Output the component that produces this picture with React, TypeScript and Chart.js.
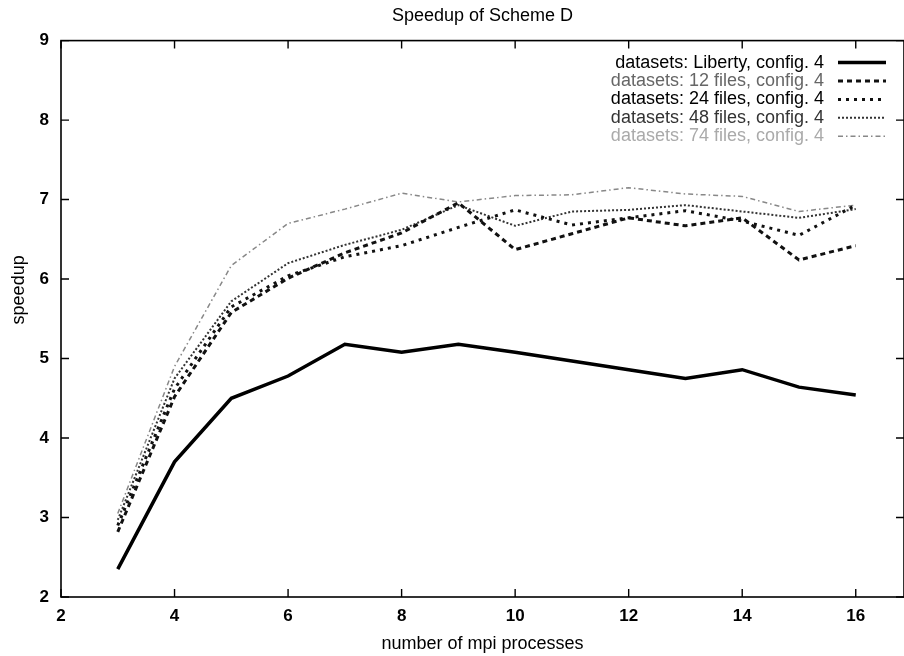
import React, { useEffect, useRef } from 'react';
import Chart from 'chart.js/auto';

// number of mpi processes
const procs = [3, 4, 5, 6, 7, 8, 9, 10, 11, 12, 13, 14, 15, 16];

// speedup per dataset
const liberty = [2.35, 3.7, 4.5, 4.78, 5.18, 5.08, 5.18, 5.08, 4.97, 4.86, 4.75, 4.86, 4.64, 4.54];
const files12 = [2.82, 4.52, 5.58, 6.01, 6.33, 6.58, 6.96, 6.37, 6.57, 6.77, 6.67, 6.77, 6.24, 6.42];
const files24 = [2.9, 4.62, 5.65, 6.04, 6.28, 6.42, 6.65, 6.87, 6.68, 6.77, 6.86, 6.73, 6.55, 6.93];
const files48 = [2.97, 4.75, 5.72, 6.2, 6.43, 6.62, 6.93, 6.67, 6.85, 6.87, 6.93, 6.85, 6.77, 6.88];
const files74 = [3.05, 4.9, 6.17, 6.7, 6.88, 7.08, 6.97, 7.05, 7.06, 7.15, 7.07, 7.04, 6.85, 6.93];

const seriesLabels = [
  'datasets: Liberty, config. 4',
  'datasets: 12 files, config. 4',
  'datasets: 24 files, config. 4',
  'datasets: 48 files, config. 4',
  'datasets: 74 files, config. 4',
];

const xTicks = [2, 4, 6, 8, 10, 12, 14, 16];
const yTicks = [2, 3, 4, 5, 6, 7, 8, 9];

const FONT = "'Liberation Sans', Arial, sans-serif";
const legendTextColors = ['#000', '#666', '#000', '#333', '#aaa'];

const toPoints = (ys: number[]) => procs.map((x, i) => ({ x, y: ys[i] }));

// gnuplot-style frame: box, inward mirrored ticks, rotated ylabel and key
const framePlugin = {
  id: 'gnuplotFrame',
  afterDraw(chart: any) {
    const { ctx, chartArea: a, scales } = chart;
    const tick = 8;
    ctx.save();
    ctx.strokeStyle = '#000';
    ctx.lineWidth = 1.6;
    ctx.strokeRect(a.left, a.top, a.right - a.left, a.bottom - a.top);
    ctx.lineWidth = 1.4;
    ctx.beginPath();
    xTicks.forEach((v) => {
      const px = scales.x.getPixelForValue(v);
      ctx.moveTo(px, a.bottom);
      ctx.lineTo(px, a.bottom - tick);
      ctx.moveTo(px, a.top);
      ctx.lineTo(px, a.top + tick);
    });
    yTicks.forEach((v) => {
      const py = scales.y.getPixelForValue(v);
      ctx.moveTo(a.left, py);
      ctx.lineTo(a.left + tick, py);
      ctx.moveTo(a.right, py);
      ctx.lineTo(a.right - tick, py);
    });
    ctx.stroke();

    // y label
    ctx.fillStyle = '#000';
    ctx.font = `18px ${FONT}`;
    ctx.textAlign = 'center';
    ctx.textBaseline = 'middle';
    ctx.translate(19, a.top + (a.bottom - a.top) * 0.448);
    ctx.rotate(-Math.PI / 2);
    ctx.fillText('speedup', 0, 0);
    ctx.restore();

    // key
    ctx.save();
    ctx.font = `18px ${FONT}`;
    ctx.textAlign = 'right';
    ctx.textBaseline = 'middle';
    const textRight = a.right - 80;
    chart.data.datasets.forEach((ds: any, i: number) => {
      const y = a.top + 22 + i * 18.4;
      ctx.fillStyle = legendTextColors[i];
      ctx.fillText(ds.label, textRight, y);
      ctx.strokeStyle = ds.borderColor;
      ctx.lineWidth = ds.borderWidth;
      ctx.setLineDash(ds.borderDash || []);
      ctx.beginPath();
      ctx.moveTo(textRight + 14, y);
      ctx.lineTo(textRight + 62, y);
      ctx.stroke();
    });
    ctx.restore();
  },
};

export default function App() {
  const canvasRef = useRef<HTMLCanvasElement>(null);

  useEffect(() => {
    document.body.style.margin = '0';
    if (!canvasRef.current) return;

    const chart = new Chart(canvasRef.current, {
      type: 'line',
      data: {
        datasets: [
          {
            label: seriesLabels[0],
            data: toPoints(liberty),
            borderColor: '#000',
            borderWidth: 3.5,
          },
          {
            label: seriesLabels[1],
            data: toPoints(files12),
            borderColor: '#111',
            borderWidth: 3,
            borderDash: [5, 4],
          },
          {
            label: seriesLabels[2],
            data: toPoints(files24),
            borderColor: '#111',
            borderWidth: 3,
            borderDash: [3, 5],
          },
          {
            label: seriesLabels[3],
            data: toPoints(files48),
            borderColor: '#333',
            borderWidth: 2,
            borderDash: [2, 2],
          },
          {
            label: seriesLabels[4],
            data: toPoints(files74),
            borderColor: '#888',
            borderWidth: 1.5,
            borderDash: [5, 3, 1.5, 3],
          },
        ],
      },
      options: {
        animation: false,
        responsive: true,
        maintainAspectRatio: false,
        layout: { padding: 0 },
        elements: {
          point: { radius: 0, hoverRadius: 0 },
          line: { tension: 0, fill: false },
        },
        plugins: {
          legend: { display: false },
          tooltip: { enabled: false },
          title: {
            display: true,
            text: 'Speedup of Scheme D',
            fullSize: false,
            color: '#000',
            font: { family: FONT, size: 18, weight: 'normal' },
            padding: { top: 5, bottom: 14 },
          },
        },
        scales: {
          x: {
            type: 'linear',
            min: 2,
            max: 16.85,
            grid: { display: false },
            border: { display: false },
            afterBuildTicks: (scale: any) => {
              scale.ticks = xTicks.map((value) => ({ value }));
            },
            afterFit: (scale: any) => {
              scale.height = 59;
            },
            ticks: {
              padding: 1,
              color: '#000',
              font: { family: FONT, size: 17, weight: 'bold' },
            },
            title: {
              display: true,
              text: 'number of mpi processes',
              color: '#000',
              font: { family: FONT, size: 18, weight: 'normal' },
              padding: { top: 0, bottom: 1 },
            },
          },
          y: {
            type: 'linear',
            min: 2,
            max: 9,
            grid: { display: false },
            border: { display: false },
            afterBuildTicks: (scale: any) => {
              scale.ticks = yTicks.map((value) => ({ value }));
            },
            afterFit: (scale: any) => {
              scale.width = 61;
            },
            ticks: {
              padding: 4,
              color: '#000',
              font: { family: FONT, size: 17, weight: 'bold' },
            },
          },
        },
      },
      plugins: [framePlugin],
    });

    return () => chart.destroy();
  }, []);

  return (
    <div style={{ width: 904, height: 656, position: 'relative', background: '#fff' }}>
      <canvas ref={canvasRef} />
    </div>
  );
}
